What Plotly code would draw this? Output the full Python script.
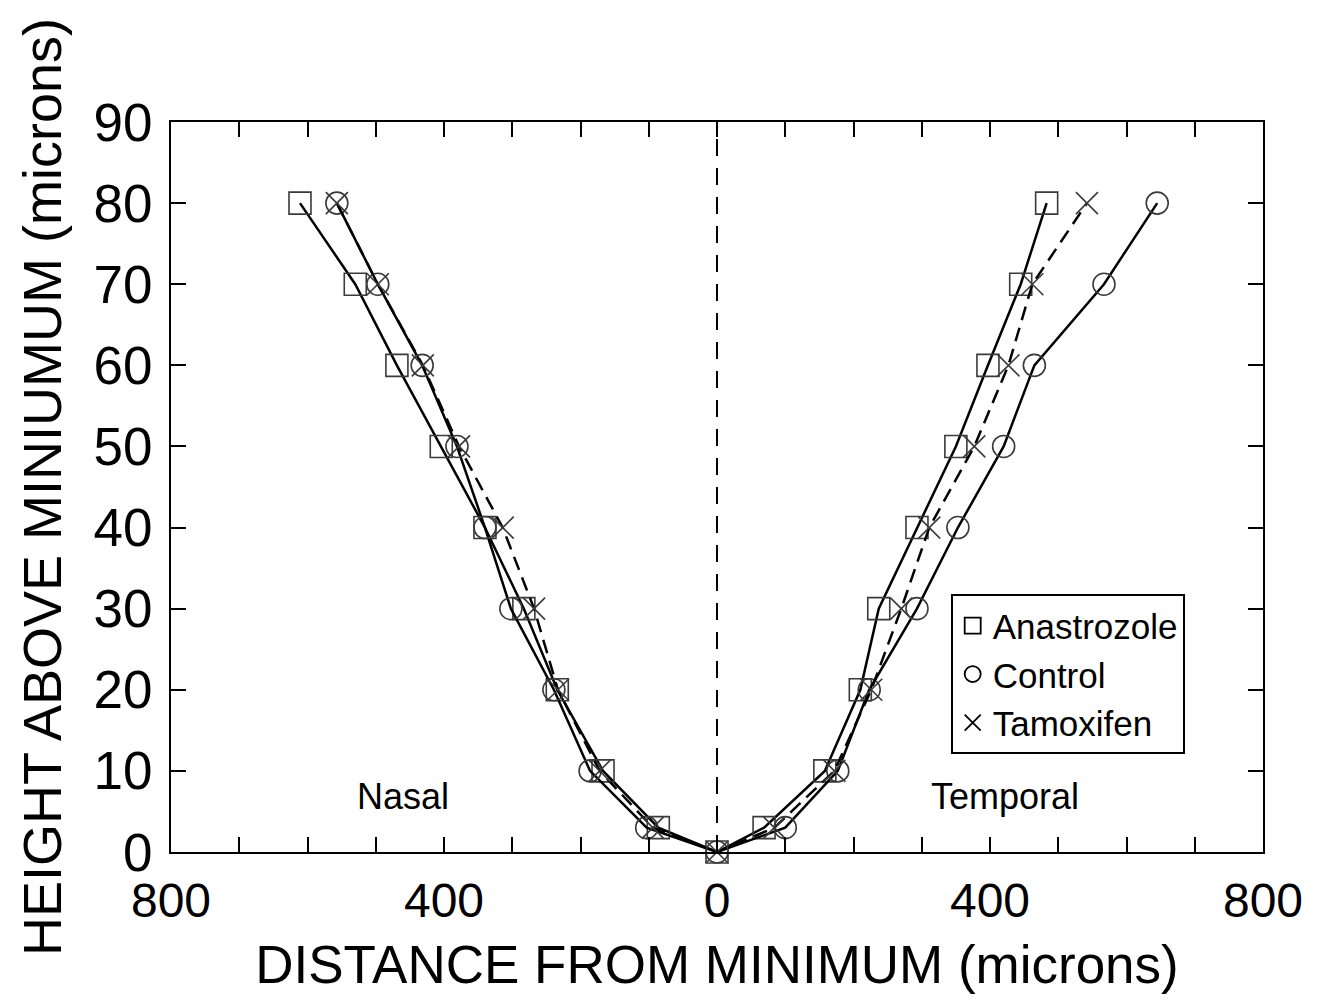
import plotly.graph_objects as go

heights = [80, 70, 60, 50, 40, 30, 20, 10, 3, 0, 3, 10, 20, 30, 40, 50, 60, 70, 80]

# Nasal side as negative distance, temporal positive
anastrozole = [-611, -530, -469, -404, -340, -283, -234, -167, -86, 0,
               69, 158, 210, 237, 293, 350, 397, 445, 483]
control = [-557, -497, -432, -381, -340, -302, -239, -186, -103, 0,
           100, 177, 223, 293, 353, 420, 465, 567, 645]
tamoxifen = [-557, -497, -431, -378, -314, -268, -233, -172, -94, 0,
             84, 172, 226, 270, 311, 377, 427, 462, 542]

x_tickvals = [-800, -700, -600, -500, -400, -300, -200, -100, 0, 100, 200, 300, 400, 500, 600, 700, 800]
x_ticktext = ["800", "", "", "", "400", "", "", "", "0", "", "", "", "400", "", "", "", "800"]
y_tickvals = [0, 10, 20, 30, 40, 50, 60, 70, 80, 90]

FONT = "Liberation Sans, Arial, sans-serif"
MC = "#3a3a3a"

fig = go.Figure()

# vertical dashed line at minimum
fig.add_trace(go.Scatter(x=[0, 0], y=[0, 90], mode="lines",
                         line=dict(color="black", width=2, dash="17px,12px"),
                         showlegend=False, hoverinfo="skip"))

series = [
    ("Anastrozole", anastrozole, "square-open", "solid"),
    ("Control", control, "circle-open", "solid"),
    ("Tamoxifen", tamoxifen, "x-thin-open", "14px,8px"),
]
for name, xs, sym, dash in series:
    fig.add_trace(go.Scatter(
        x=xs, y=heights, mode="lines+markers", name=name, showlegend=False,
        line=dict(color="black", width=2.5, dash=dash),
        marker=dict(symbol=sym, size=22, color=MC, line=dict(color=MC, width=1.6)),
        cliponaxis=False))
for name, xs, sym, dash in series:
    fig.add_trace(go.Scatter(
        x=[None], y=[None], mode="markers", name=name,
        marker=dict(symbol=sym, size=22, color="black", line=dict(color="black", width=1.8))))

fig.add_annotation(x=-460, y=6.9, text="Nasal", showarrow=False,
                   font=dict(family=FONT, size=36, color="black"))
fig.add_annotation(x=422, y=6.9, text="Temporal", showarrow=False,
                   font=dict(family=FONT, size=36, color="black"))

fig.update_layout(
    width=1313, height=986,
    margin=dict(l=163, r=58, t=114, b=142),
    paper_bgcolor="white", plot_bgcolor="white",
    font=dict(family=FONT, color="black"),
    legend=dict(x=0.714, y=0.353, xanchor="left", yanchor="top",
                bordercolor="black", borderwidth=2, bgcolor="white",
                font=dict(family=FONT, size=35, color="black"),
                tracegroupgap=0),
)
fig.update_xaxes(range=[-800, 800], tickvals=x_tickvals, ticktext=x_ticktext,
                 ticks="inside", ticklen=15, tickwidth=2, tickcolor="black",
                 showline=True, linecolor="black", linewidth=2, mirror="ticks",
                 showgrid=False, zeroline=False, ticklabelstandoff=5, automargin=False,
                 tickfont=dict(family=FONT, size=48, color="black"),
                 title=dict(text="DISTANCE FROM MINIMUM (microns)",
                            font=dict(family=FONT, size=53, color="black"), standoff=29))
fig.update_yaxes(range=[0, 90], tickvals=y_tickvals,
                 ticks="inside", ticklen=15, tickwidth=2, tickcolor="black",
                 showline=True, linecolor="black", linewidth=2, mirror="ticks",
                 showgrid=False, zeroline=False, ticklabelstandoff=6, automargin=False,
                 tickfont=dict(family=FONT, size=53, color="black"),
                 title=dict(text="HEIGHT ABOVE MINIUMUM (microns)",
                            font=dict(family=FONT, size=54, color="black"), standoff=15))

fig.write_html("out.html")
